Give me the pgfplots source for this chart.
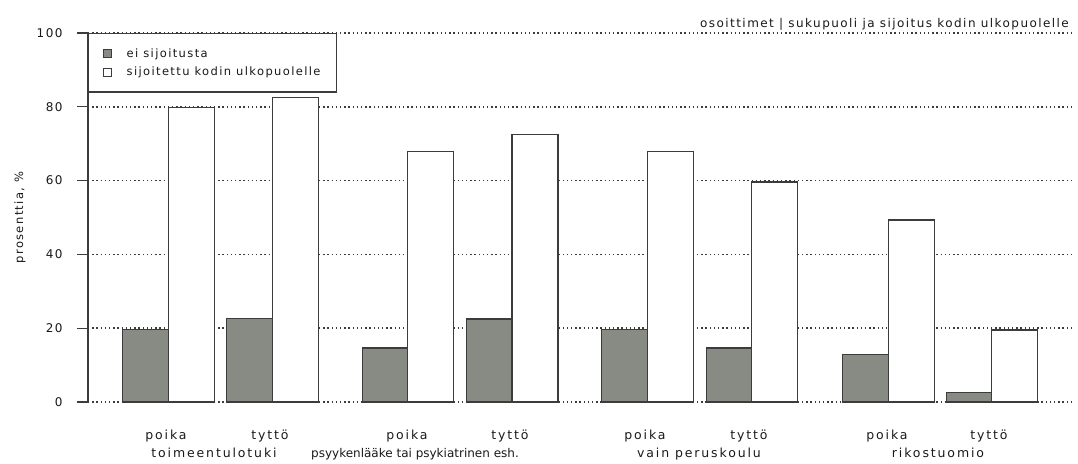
\documentclass[border=0pt]{standalone}
\usepackage{fontspec}
\setmainfont{DejaVu Sans}
\newfontfamily\lblfont{DejaVu Sans}[LetterSpace=12]
\newfontfamily\xlblfont{DejaVu Sans}[LetterSpace=15]
\newfontfamily\plainfont{DejaVu Sans}
\usepackage{pgfplots}
\pgfplotsset{compat=1.18}
\definecolor{barfill}{RGB}{136,138,132}
\definecolor{barline}{RGB}{60,60,60}
\definecolor{gridc}{RGB}{60,60,60}
\definecolor{txt}{RGB}{25,25,25}
\begin{document}
\begin{tikzpicture}
\useasboundingbox (0,0) rectangle (1078pt,463pt);
\begin{axis}[
  at={(88pt,61pt)}, anchor=south west,
  scale only axis, width=984pt, height=369pt,
  xmin=88, xmax=1072, ymin=0, ymax=100,
  clip=false,
  axis x line=none,
  axis y line*=left,
  axis line style={line width=1.3pt, barline},
  y axis line style={-},
  ytick={0,20,40,60,80,100},
  tick align=outside,
  major tick length=11pt,
  tick style={line width=1.3pt, barline},
  ymajorgrids,
  grid style={gridc, line width=1.5pt, dash pattern=on 1.4pt off 2.8pt},
  /pgf/number format/assume math mode=true,
  yticklabel style={font=\lblfont\fontsize{12pt}{14pt}\selectfont, text=txt, xshift=-11pt},
  ylabel={prosenttia, \%},
  every axis y label/.style={at={(rel axis cs:0,0.5)}, xshift=-68pt, rotate=90, anchor=center, font=\lblfont\fontsize{11.5pt}{14pt}\selectfont, text=txt},
  legend style={at={(rel axis cs:0,1)}, anchor=north west, draw=barline, line width=1.3pt,
    font=\lblfont\fontsize{11.5pt}{14pt}\selectfont, text=txt,
    inner xsep=14pt, inner ysep=13pt, row sep=4pt, cells={anchor=west},
    /tikz/every odd column/.append style={column sep=13pt}},
  legend cell align=left,
  legend image code/.code={\draw[#1, line width=1pt] (0pt,-4pt) rectangle (8pt,4pt);},
]
\addplot[ybar, bar shift=0pt, bar width=46, fill=barfill, draw=barline, line width=1.3pt]
  coordinates {(145.8,19.7) (249.4,22.7) (385.7,14.6) (489.2,22.5) (624.8,19.6) (729.3,14.6) (865.3,12.8) (969.7,2.5)};
\addlegendentry{ei sijoitusta}
\addplot[ybar, bar shift=0pt, bar width=46, fill=white, draw=barline, line width=1.3pt]
  coordinates {(191.7,79.8) (295.8,82.5) (430.8,67.8) (535,72.4) (670.5,67.8) (774.8,59.6) (911.5,49.3) (1014.5,19.5)};
\addlegendentry{sijoitettu kodin ulkopuolelle}
\foreach \x/\t in {166/poika,270/tyttö,407/poika,510/tyttö,645/poika,749/tyttö,887/poika,989/tyttö}{
  \edef\temp{\noexpand\node[anchor=base, font=\noexpand\xlblfont\noexpand\fontsize{12.5pt}{15pt}\noexpand\selectfont, text=txt] at (axis cs:\x,0) [yshift=-37pt] {\t};}
  \temp
}
\foreach \x/\t in {214/toimeentulotuki,699/vain peruskoulu,938/rikostuomio}{
  \edef\temp{\noexpand\node[anchor=base, font=\noexpand\xlblfont\noexpand\fontsize{12.5pt}{15pt}\noexpand\selectfont, text=txt] at (axis cs:\x,0) [yshift=-55pt] {\t};}
  \temp
}
\node[anchor=base, font=\plainfont\fontsize{12pt}{15pt}\selectfont, text=txt] at (axis cs:415,0) [yshift=-55pt] {psyykenlääke tai psykiatrinen esh.};
\node[anchor=base east, font=\lblfont\fontsize{12pt}{14pt}\selectfont, text=txt, fill=white, inner sep=1pt] at (rel axis cs:1,1) [yshift=5pt, xshift=-2pt] {osoittimet | sukupuoli ja sijoitus kodin ulkopuolelle};
\end{axis}
\end{tikzpicture}
\end{document}
